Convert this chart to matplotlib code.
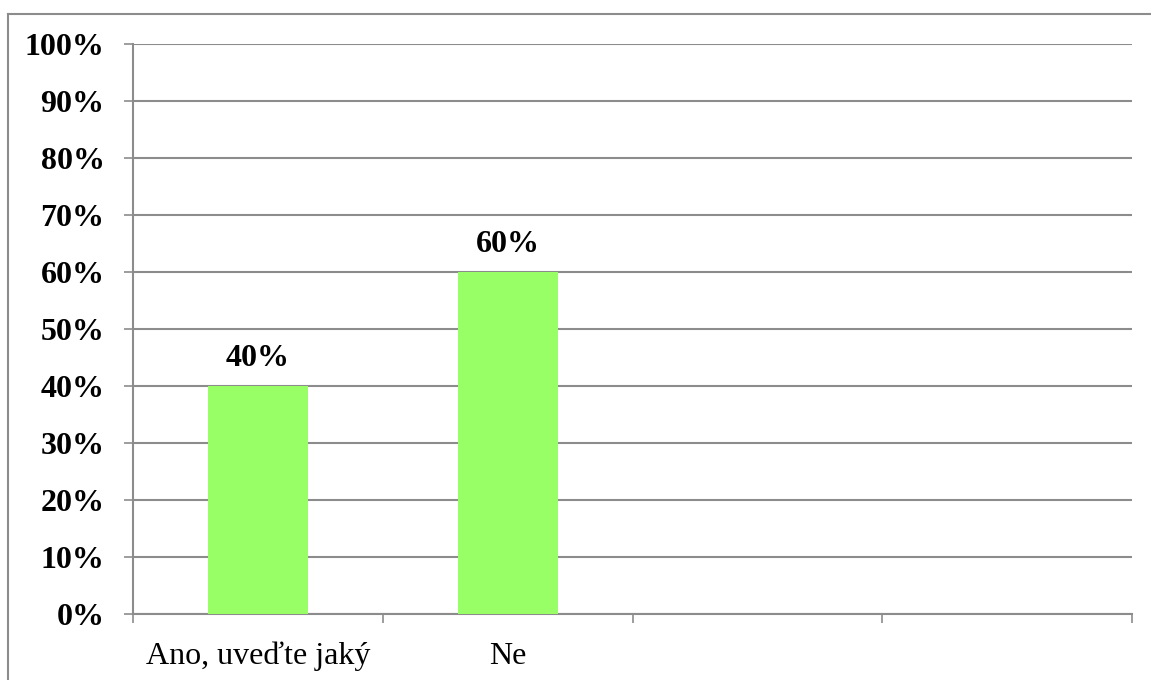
import matplotlib
matplotlib.use("Agg")
import matplotlib.pyplot as plt
from matplotlib.lines import Line2D
import numpy as np

categories = ["Ano, uveďte jaký", "Ne", "", ""]
values = [40, 60]
y_ticks = [0, 10, 20, 30, 40, 50, 60, 70, 80, 90, 100]

plt.rcParams['font.family'] = ['Liberation Serif', 'DejaVu Serif']

W, H = 1151, 680
fig = plt.figure(figsize=(W / 100, H / 100), dpi=100)
ax = fig.add_axes([133 / W, 1 - 614 / H, (1132 - 133) / W, (614 - 44) / H])

grid_c = "#8c8c8c"
bar_c = "#99ff66"

x = np.arange(len(values))
bars = ax.bar(x, values, width=0.4, color=bar_c, zorder=3)
for xi, v in zip(x, values):
    ax.annotate(f"{v}%", (xi, v), xytext=(0, 9), textcoords="offset points",
                ha="center", va="bottom", fontsize=23, fontweight="bold", zorder=4)

ax.set_xlim(-0.5, len(categories) - 0.5)
ax.set_ylim(0, 100)
ax.set_yticks(y_ticks)
ax.set_yticklabels([f"{t}%" for t in y_ticks], fontsize=23, fontweight="bold")
ax.yaxis.grid(True, color=grid_c, linewidth=1.5, zorder=0)
ax.tick_params(axis="y", length=6.5, width=1.2, color=grid_c, pad=14)

ax.set_xticks(np.arange(len(categories)))
ax.set_xticklabels(categories, fontsize=23)
ax.set_xticks(np.arange(len(categories) + 1) - 0.5, minor=True)
ax.tick_params(axis="x", which="major", length=0, pad=20)
ax.tick_params(axis="x", which="minor", length=6.5, width=1.2, color=grid_c)

for s in ["top", "right"]:
    ax.spines[s].set_visible(False)
for s in ["left", "bottom"]:
    ax.spines[s].set_color(grid_c)
    ax.spines[s].set_linewidth(1.5)

# outer chart border
x0 = 8 / W
y0 = 1 - 14 / H
fig.add_artist(Line2D([x0, x0], [0, y0], transform=fig.transFigure, color="#8c8c8c", linewidth=1.5))
fig.add_artist(Line2D([x0, 1], [y0, y0], transform=fig.transFigure, color="#8c8c8c", linewidth=1.5))

fig.savefig("out.png", dpi=100, facecolor="white")
